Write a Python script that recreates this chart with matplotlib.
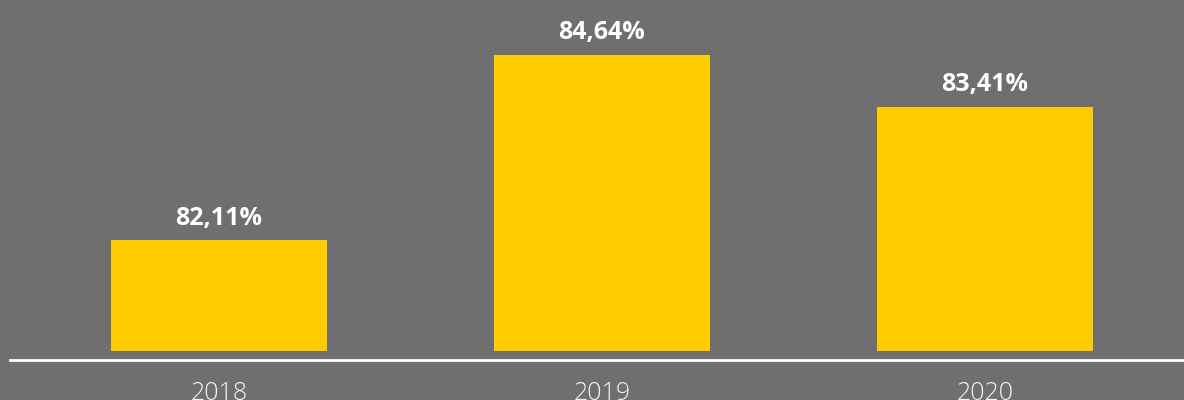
import matplotlib
matplotlib.use("Agg")
import matplotlib.pyplot as plt

# Data
YEARS = ["2018", "2019", "2020"]
LABELS = [82.11, 84.64, 83.41]          # printed values
BAR_HEIGHTS = [37.2, 99.6, 82.0]        # drawn bar heights, relative to the tallest

BG = "#6f6f6f"
YELLOW = "#ffcc00"


def fmt(v):
    return f"{v:.2f}".replace(".", ",") + "%"


def main():
    fig = plt.figure(figsize=(11.84, 4.0), dpi=100, facecolor=BG)
    ax = fig.add_axes([10 / 1184, 0.1, 1 - 10 / 1184, 0.9])
    ax.set_facecolor(BG)

    x = range(len(YEARS))
    bars = ax.bar(x, BAR_HEIGHTS, width=0.564, color=YELLOW, linewidth=0)

    for b, v in zip(bars, LABELS):
        ax.annotate(fmt(v), (b.get_x() + b.get_width() / 2, b.get_height()),
                    xytext=(0, 7), textcoords="offset points",
                    ha="center", va="bottom", color="white",
                    fontsize=18, fontweight="bold", family=["Open Sans", "DejaVu Sans"])

    ax.set_xlim(-0.5457, 2.5196)
    ax.set_ylim(-2.9, 117.9)

    for s in ["top", "right", "left"]:
        ax.spines[s].set_visible(False)
    ax.spines["bottom"].set_position(("data", -2.9))
    ax.spines["bottom"].set_color("white")
    ax.spines["bottom"].set_linewidth(2)

    ax.set_yticks([])
    ax.set_xticks(list(x))
    ax.set_xticklabels(YEARS)
    ax.tick_params(axis="x", length=0, pad=15, colors="#f2f2f2")
    for t in ax.get_xticklabels():
        t.set_fontsize(18)
        t.set_fontweight("light")
        t.set_family(["Open Sans", "DejaVu Sans"])

    fig.savefig("out.png", dpi=100, facecolor=BG)


if __name__ == "__main__":
    main()
